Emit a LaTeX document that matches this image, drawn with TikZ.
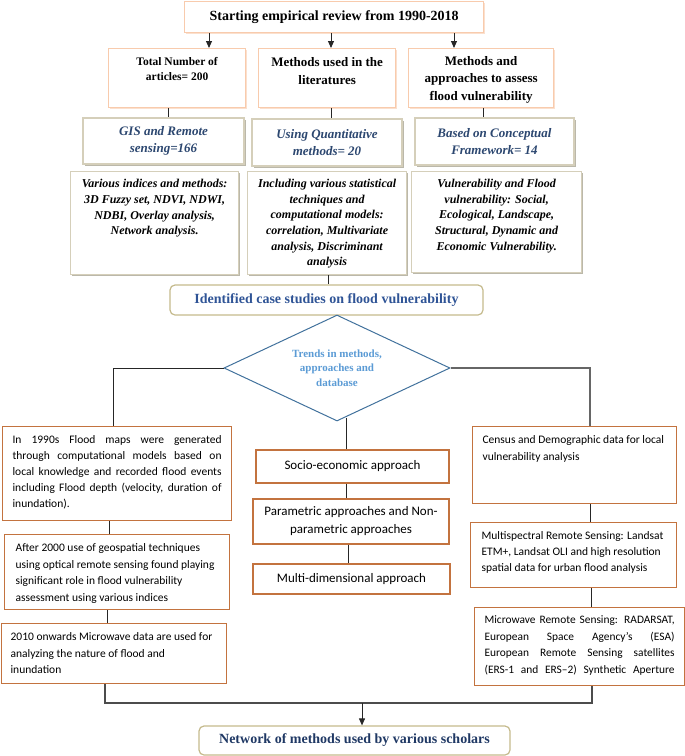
\documentclass[tikz,border=0pt]{standalone}
\usepackage{fontspec}
\setmainfont{Liberation Serif}
\newfontfamily\calib{Carlito}
\usetikzlibrary{shapes.geometric,arrows.meta,calc,shadows}
\definecolor{peach}{HTML}{F8CBAD}
\definecolor{tanl}{HTML}{D5CFBA}
\definecolor{brownb}{HTML}{C3733F}
\definecolor{gold}{HTML}{C4BA8C}
\definecolor{dblue}{HTML}{41719C}
\definecolor{lblue}{HTML}{5B9BD5}
\definecolor{navyt}{HTML}{2C4770}
\definecolor{blueI}{HTML}{2F5496}
\definecolor{navyF}{HTML}{1F3864}
\newcommand{\bxc}[4]{\parbox[c][#2][t]{#1}{\centering\rule{0pt}{#3}#4}}
\newcommand{\bxl}[5]{\parbox[c][#2][t]{#1}{\raggedright\leftskip=#4\relax\rule{0pt}{#3}#5}}
\newcommand{\bxj}[5]{\parbox[c][#2][t]{#1}{\leftskip=#4\relax\rightskip=#4\relax\rule{0pt}{#3}#5}}
\tikzset{
  basebox/.style={draw, inner sep=0pt},
  pbox/.style={basebox, draw=peach, fill=white, line width=1.3pt,
    drop shadow={shadow xshift=1.3pt, shadow yshift=-1.3pt, fill=peach!60, opacity=1}},
  gbox/.style={basebox, draw=tanl, fill=white, line width=1.3pt,
    drop shadow={shadow xshift=1.5pt, shadow yshift=-1.5pt, fill=tanl!80!black, opacity=0.8}},
  obox/.style={basebox, draw=brownb, line width=1.2pt},
  rbox/.style={basebox, draw=gold, line width=1.2pt, rounded corners=5pt},
  conn/.style={line width=0.9pt, black!85},
  arr/.style={conn, -{Triangle[width=6pt,length=7pt]}},
}
\begin{document}
\begin{tikzpicture}[x=1pt,y=-1pt]
\useasboundingbox (0,0) rectangle (685,756);
% top
\node[pbox, minimum width=299pt, minimum height=31pt, anchor=north west,
  font=\bfseries\fontsize{14}{16}\selectfont] (T) at (184,0.7) {Starting empirical review from 1990-2018};
% row 2
\node[pbox, anchor=north west] (b1) at (108,48)
  {\bxc{137pt}{59pt}{17pt}{\bfseries\fontsize{11.5}{15}\selectfont Total Number of\\articles= 200}};
\node[pbox, anchor=north west] (b2) at (258,48)
  {\bxc{137pt}{59pt}{17.5pt}{\bfseries\fontsize{13}{18}\selectfont Methods used in the\\literatures}};
\node[pbox, anchor=north west] (b3) at (408,48)
  {\bxc{145pt}{59pt}{16.5pt}{\bfseries\fontsize{13}{17.5}\selectfont Methods and\\approaches to assess\\flood vulnerability}};
% row 3
\tikzset{r3/.style={gbox, align=center, text=navyt, font=\bfseries\itshape\fontsize{13}{17}\selectfont}}
\node[r3, minimum width=161pt, minimum height=46pt] (c1) at (163.5,141) {GIS and Remote\\sensing=166};
\node[r3, minimum width=150pt, minimum height=47pt] (c2) at (327,142.5) {Using Quantitative\\methods= 20};
\node[r3, minimum width=159pt, minimum height=47pt] (c3) at (494.5,141.5) {Based on Conceptual\\Framework= 14};
% row 4
\node[gbox, anchor=north west] (d1) at (70,171)
  {\bxc{168pt}{103pt}{16pt}{\bfseries\itshape\fontsize{12}{15.7}\selectfont Various indices and methods:\\3D Fuzzy set, NDVI, NDWI,\\NDBI, Overlay analysis,\\Network analysis.}};
\node[gbox, anchor=north west] (d2) at (247,171)
  {\bxc{159pt}{103pt}{16pt}{\bfseries\itshape\fontsize{12}{15.6}\selectfont Including various statistical\\techniques and\\computational models:\\correlation, Multivariate\\analysis, Discriminant\\analysis}};
\node[gbox, anchor=north west] (d3) at (411,171)
  {\bxc{170pt}{101pt}{16pt}{\bfseries\itshape\fontsize{12}{15.6}\selectfont Vulnerability and Flood\\vulnerability: Social,\\Ecological, Landscape,\\Structural, Dynamic and\\Economic Vulnerability.}};
% identified
\node[rbox, minimum width=313pt, minimum height=30pt, text=blueI,
  font=\bfseries\fontsize{14}{16}\selectfont] (I) at (326.5,300) {Identified case studies on flood vulnerability};
% diamond
\node[diamond, aspect=2.13, draw=dblue, line width=1pt, minimum width=226pt, minimum height=106pt,
  inner sep=0pt, align=center, text=lblue, font=\bfseries\fontsize{11}{14.5}\selectfont] (D) at (337,368)
  {Trends in methods,\\approaches and\\database};
% left column
\node[obox, anchor=north west] (e1) at (2,426)
  {\bxj{229pt}{94pt}{17pt}{10pt}{\calib\fontsize{11.5}{16}\selectfont In 1990s Flood maps were generated\linebreak through computational models based on\linebreak local knowledge and recorded flood events\linebreak including Flood depth (velocity, duration of\linebreak inundation).}};
\node[obox, anchor=north west] (e2) at (4,534)
  {\bxl{225pt}{75pt}{17pt}{11pt}{\calib\fontsize{11.5}{16.5}\selectfont After 2000 use of geospatial techniques\\using optical remote sensing found playing\\significant role in flood vulnerability\\assessment using various indices}};
\node[obox, anchor=north west] (e3) at (1,623)
  {\bxl{225pt}{60pt}{17pt}{9pt}{\calib\fontsize{11.5}{16.5}\selectfont 2010 onwards Microwave data are used for\\analyzing the nature of flood and\\inundation}};
% middle column
\tikzset{mid/.style={obox, align=center, font=\calib\fontsize{13}{18}\selectfont}}
\node[mid, minimum width=193pt, minimum height=33pt] (m1) at (352.5,466.5) {Socio-economic approach};
\node[mid, minimum width=196pt, minimum height=45pt] (m2) at (351,521.5) {Parametric approaches and Non-\\parametric approaches};
\node[mid, minimum width=197pt, minimum height=30pt] (m3) at (351.5,579) {Multi-dimensional approach};
% right column
\node[obox, anchor=north west] (r1) at (472,426)
  {\bxl{204pt}{77pt}{17pt}{10pt}{\calib\fontsize{11.5}{16.5}\selectfont Census and Demographic data for local\\vulnerability analysis}};
\node[obox, anchor=north west] (r2) at (470,522)
  {\bxl{206pt}{65pt}{17pt}{11pt}{\calib\fontsize{11.5}{16}\selectfont Multispectral Remote Sensing: Landsat\\ETM+, Landsat OLI and high resolution\\spatial data for urban flood analysis}};
\node[obox, anchor=north west] (r3) at (474,607)
  {\bxj{210pt}{78pt}{16pt}{10pt}{\calib\fontsize{11.4}{16.5}\selectfont\parfillskip=0pt Microwave Remote Sensing: RADARSAT,\linebreak European Space Agency’s (ESA)\linebreak European Remote Sensing satellites\linebreak (ERS-1 and ERS–2) Synthetic Aperture}};
% final
\node[rbox, minimum width=311pt, minimum height=29pt, text=navyF,
  font=\bfseries\fontsize{14}{16}\selectfont] (F) at (354.5,740.5) {Network of methods used by various scholars};
% coordinates
\coordinate (ax1) at (209,0);
\coordinate (ax2) at (331,0);
\coordinate (ax3) at (454,0);
\coordinate (cx1) at (168,0);
\coordinate (cx2) at (331,0);
\coordinate (cx3) at (483,0);
\coordinate (dx2) at (328,0);
\coordinate (Lx) at (113,0);
\coordinate (Rx) at (590,0);
\coordinate (Cx) at (346,0);
\coordinate (Cx2) at (348,0);
\coordinate (Lx2) at (109,0);
\coordinate (Lx3) at (107,0);
\coordinate (Rx3) at (591,0);
\coordinate (J1) at (105,703);
\coordinate (J2) at (592,703);
\coordinate (J) at (362,703);
\coordinate (Db) at ($(D.south)+(0,-4)$);
% connectors
\draw[arr] (T.south -| ax1) -- (b1.north -| ax1);
\draw[arr] (T.south -| ax2) -- (b2.north -| ax2);
\draw[arr] (T.south -| ax3) -- (b3.north -| ax3);
\draw[conn] (b1.south -| cx1) -- (c1.north -| cx1);
\draw[conn] (b2.south -| cx2) -- (c2.north -| cx2);
\draw[conn] (b3.south -| cx3) -- (c3.north -| cx3);
\draw[conn] (d2.south -| dx2) -- (I.north -| dx2);
\draw[conn] (D.west) -| (e1.north -| Lx);
\draw[conn, black!60, line width=1.1pt] (D.east) -| (r1.north -| Rx);
\draw[conn] (Db -| Cx) -- (m1.north -| Cx);
\draw[conn] (m1.south -| Cx) -- (m2.north -| Cx);
\draw[conn] (m2.south -| Cx2) -- (m3.north -| Cx2);
\draw[conn] (e1.south -| Lx2) -- (e2.north -| Lx2);
\draw[conn] (e2.south -| Lx3) -- (e3.north -| Lx3);
\draw[conn] (r1.south -| Rx) -- (r2.north -| Rx);
\draw[conn] (r2.south -| Rx3) -- (r3.north -| Rx3);
\draw[conn, black!70, line width=1.1pt] (e3.south -| J1) -- (J1) -- (J2) -- (r3.south -| J2);
\draw[arr] (J) -- (F.north -| J);
\end{tikzpicture}
\end{document}
